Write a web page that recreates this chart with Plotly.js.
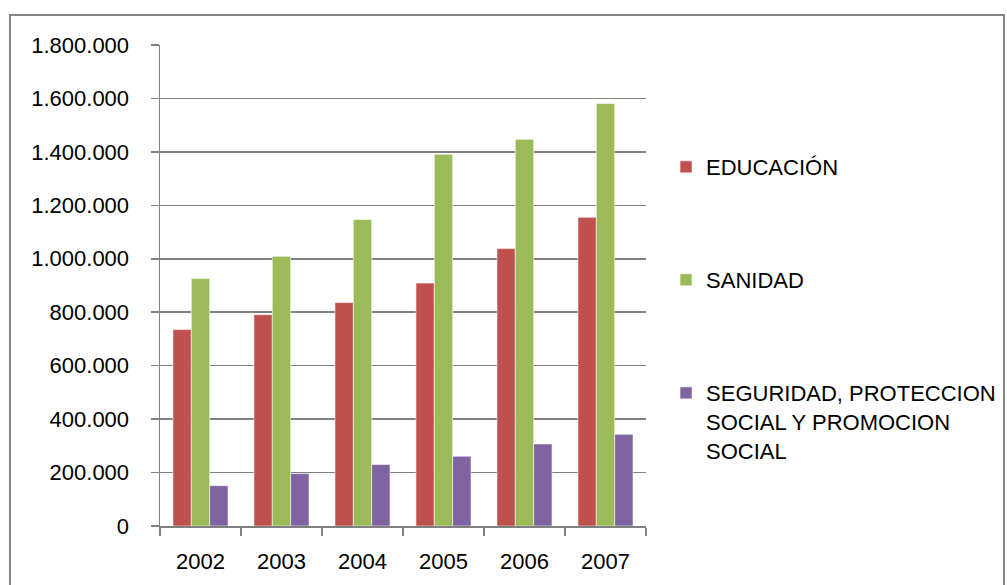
<!DOCTYPE html>
<html>
<head>
<meta charset="utf-8">
<script src="https://cdn.plot.ly/plotly-3.0.1.min.js"></script>
<style>
html,body{margin:0;padding:0;background:#fff;}
#chart{width:1007px;height:585px;}
</style>
</head>
<body>
<div id="chart"></div>
<script>
const years = ['2002','2003','2004','2005','2006','2007'];
const educacion = [735000, 791000, 836000, 909000, 1038000, 1155000];
const sanidad = [926000, 1009000, 1147000, 1391000, 1447000, 1581000];
const seguridad = [151000, 196000, 230000, 261000, 307000, 343000];
const yTicks = [0, 200000, 400000, 600000, 800000, 1000000, 1200000, 1400000, 1600000, 1800000];
const yTickText = ['0','200.000','400.000','600.000','800.000','1.000.000','1.200.000','1.400.000','1.600.000','1.800.000'];
const names = ['EDUCACIÓN', 'SANIDAD', 'SEGURIDAD, PROTECCION<br>SOCIAL Y PROMOCION<br>SOCIAL'];

const font = {family: '"Liberation Sans", Arial, sans-serif', size: 22, color: '#000'};
const edge = {color: 'rgba(255,255,255,0.55)', width: 1};

const traces = [
  {type:'bar', x: years, y: educacion, name: names[0], marker:{color:'#C0504D', line: edge}, legend:'legend'},
  {type:'bar', x: years, y: sanidad, name: names[1], marker:{color:'#9BBB59', line: edge}, legend:'legend2'},
  {type:'bar', x: years, y: seguridad, name: names[2], marker:{color:'#8064A2', line: edge}, legend:'legend3'}
];

const legBase = {font: font, bgcolor:'rgba(0,0,0,0)', borderwidth:0, xref:'container', yref:'container', xanchor:'left', x:0.6614};

const layout = {
  width: 1007, height: 585,
  margin: {l:160, r:361, t:45, b:59, pad:0, autoexpand:false},
  paper_bgcolor:'#fff', plot_bgcolor:'#fff',
  font: font,
  barmode:'group', bargap:0.32, bargroupgap:0,
  showlegend:true,
  xaxis: {
    type:'category', showgrid:false, showline:true, linecolor:'#808080', linewidth:1.5,
    ticks:'outside', tickson:'boundaries', ticklen:8, tickcolor:'#808080', tickwidth:1.5,
    tickfont: font, ticklabelstandoff: 15, fixedrange:true
  },
  yaxis: {
    range:[0,1800000], tickvals: yTicks, ticktext: yTickText,
    showgrid:true, gridcolor:'#808080', gridwidth:1.5,
    showline:true, linecolor:'#808080', linewidth:1.5,
    ticks:'outside', ticklen:8, tickcolor:'#808080', tickwidth:1.5,
    tickfont: font, ticklabelstandoff: 17, zeroline:false, fixedrange:true
  },
  legend: Object.assign({}, legBase, {y:0.7145, yanchor:'middle'}),
  legend2: Object.assign({}, legBase, {y:0.5214, yanchor:'middle'}),
  legend3: Object.assign({}, legBase, {y:0.364, yanchor:'top', valign:'top'}),
  shapes: [{type:'rect', xref:'paper', yref:'paper', x0:-0.3086, x1:1.7366, y0:-0.2, y1:1.0624,
            line:{color:'#868686', width:2}, fillcolor:'rgba(0,0,0,0)', layer:'below'}]
};

Plotly.newPlot('chart', traces, layout, {displayModeBar:false, staticPlot:true});
</script>
</body>
</html>
